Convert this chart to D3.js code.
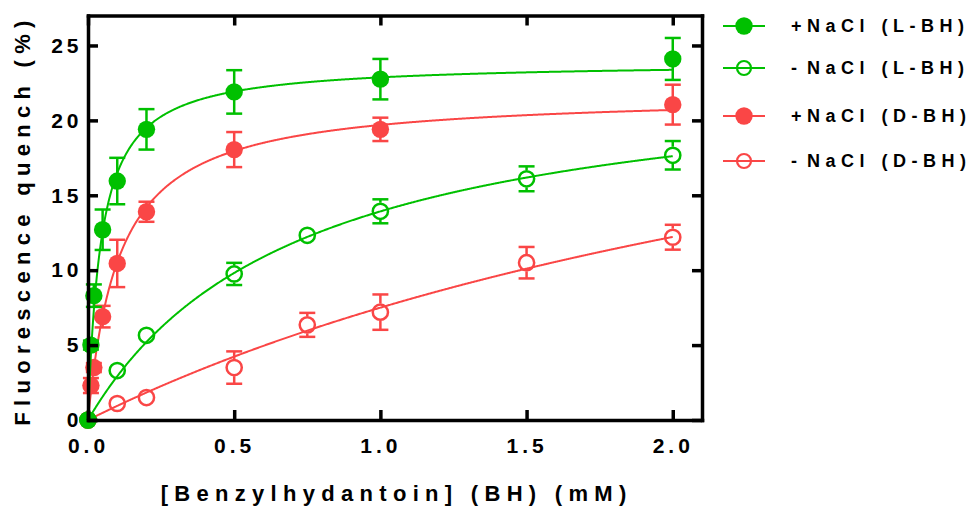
<!DOCTYPE html>
<html>
<head>
<meta charset="utf-8">
<script src="https://cdn.jsdelivr.net/npm/d3@7"></script>
<style>
  html, body { margin: 0; padding: 0; background: #fff; }
  svg { display: block; }
  text { font-family: "Liberation Sans", Arial, sans-serif; font-weight: bold; fill: #000; }
</style>
</head>
<body>
<svg id="chart" width="973" height="506"></svg>
<script>
// ---------------- data ----------------
const seriesNames = ["+NaCl (L-BH)", "- NaCl (L-BH)", "+NaCl (D-BH)", "- NaCl (D-BH)"];
const seriesColors = ["#00C000", "#00C000", "#FA4646", "#FA4646"];
const seriesFilled = [true, false, true, false];

const xPlusL = [0, 0.01, 0.02, 0.05, 0.1, 0.2, 0.5, 1.0, 2.0];
const yPlusL = [0, 5.0, 8.3, 12.7, 15.95, 19.4, 21.9, 22.75, 24.1];
const ePlusL = [0, 0.3, 0.75, 1.35, 1.55, 1.35, 1.45, 1.35, 1.4];

const xMinusL = [0, 0.1, 0.2, 0.5, 0.75, 1.0, 1.5, 2.0];
const yMinusL = [0, 3.3, 5.65, 9.75, 12.33, 13.93, 16.1, 17.67];
const eMinusL = [0, 0.3, 0.3, 0.74, 0.3, 0.8, 0.83, 0.95];

const xPlusD = [0, 0.01, 0.02, 0.05, 0.1, 0.2, 0.5, 1.0, 2.0];
const yPlusD = [0, 2.3, 3.5, 6.9, 10.45, 13.9, 18.05, 19.4, 21.05];
const ePlusD = [0, 0.5, 0.3, 0.72, 1.58, 0.67, 1.17, 0.78, 1.33];

const xMinusD = [0, 0.1, 0.2, 0.5, 0.75, 1.0, 1.5, 2.0];
const yMinusD = [0, 1.1, 1.5, 3.5, 6.35, 7.2, 10.5, 12.2];
const eMinusD = [0, 0.55, 0.3, 1.08, 0.8, 1.18, 1.05, 0.83];

// one-site binding fit parameters (Bmax, Kd) for the drawn curves
const fitBmax = [23.9, 23.95, 21.8, 33.0];
const fitKd = [0.045, 0.72, 0.107, 3.4];

const xTicks = [0, 0.5, 1.0, 1.5, 2.0];
const xTickLabels = ["0.0", "0.5", "1.0", "1.5", "2.0"];
const yTicks = [0, 5, 10, 15, 20, 25];
const yTickLabels = ["0", "5", "10", "15", "20", "25"];
const xTitle = "[Benzylhydantoin] (BH) (mM)";
const yTitle = "Fluorescence quench (%)";

// ---------------- layout ----------------
const svg = d3.select("#chart");
const mLeft = 88, mRight = 702, mTop = 15.5, mBottom = 420;
const x = d3.scaleLinear().domain([0, 2.1]).range([mLeft, mRight]);
const y = d3.scaleLinear().domain([0, 27]).range([mBottom, mTop]);

const series = [
  { x: xPlusL, y: yPlusL, e: ePlusL },
  { x: xMinusL, y: yMinusL, e: eMinusL },
  { x: xPlusD, y: yPlusD, e: ePlusD },
  { x: xMinusD, y: yMinusD, e: eMinusD }
].map((s, i) => ({ ...s, name: seriesNames[i], color: seriesColors[i], filled: seriesFilled[i],
  bmax: fitBmax[i], kd: fitKd[i] }));

const AXW = 3.5, TICK = 10, TICKFS = 21, TICKLS = 4;

// ---------------- curves & points (draw D series first, L on top) ----------------
const drawOrder = [3, 2, 1, 0];
const fitX = d3.range(0, 801).map(i => i * 2.0 / 800);
const line = d3.line().x(d => x(d[0])).y(d => y(d[1]));
const R_F = 8.7, R_O = 7.6;

drawOrder.forEach(i => {
  const s = series[i];
  const g = svg.append("g");
  g.append("path")
    .attr("d", line(fitX.map(v => [v, s.bmax * v / (s.kd + v)])))
    .attr("fill", "none").attr("stroke", s.color).attr("stroke-width", 2);
  const pts = s.x.map((v, k) => ({ x: v, y: s.y[k], e: s.e[k] }));
  const r = s.filled ? R_F : R_O;
  pts.forEach(p => {
    const cx = x(p.x), cy = y(p.y), ePx = y(p.y) - y(p.y + p.e);
    if (s.filled) {
      if (ePx <= 0) return;
      g.append("line").attr("x1", cx).attr("x2", cx).attr("y1", cy - ePx).attr("y2", cy + ePx)
        .attr("stroke", s.color).attr("stroke-width", 2.5);
      [-1, 1].forEach(sg => g.append("line").attr("x1", cx - 8).attr("x2", cx + 8)
        .attr("y1", cy + sg * ePx).attr("y2", cy + sg * ePx).attr("stroke", s.color).attr("stroke-width", 2.5));
    } else {
      if (ePx <= r + 1) return;
      [-1, 1].forEach(sg => {
        g.append("line").attr("x1", cx).attr("x2", cx).attr("y1", cy + sg * (r + 1)).attr("y2", cy + sg * ePx)
          .attr("stroke", s.color).attr("stroke-width", 2.5);
        g.append("line").attr("x1", cx - 8).attr("x2", cx + 8)
          .attr("y1", cy + sg * ePx).attr("y2", cy + sg * ePx).attr("stroke", s.color).attr("stroke-width", 2.5);
      });
    }
  });
  g.selectAll("circle").data(pts).join("circle")
    .attr("cx", d => x(d.x)).attr("cy", d => y(d.y)).attr("r", r)
    .attr("fill", s.filled ? s.color : "none")
    .attr("stroke", s.filled ? "none" : s.color).attr("stroke-width", 2.5);
});

// ---------------- axes (box, inward ticks) ----------------
function styleAxis(g) {
  g.selectAll(".domain").attr("stroke", "#000").attr("stroke-width", AXW).attr("stroke-linecap", "square");
  g.selectAll(".tick line").attr("stroke", "#000").attr("stroke-width", AXW);
  g.selectAll("text").attr("font-size", TICKFS).attr("letter-spacing", TICKLS)
    .attr("font-family", "'Liberation Sans', Arial, sans-serif").attr("font-weight", "bold").attr("fill", "#000");
}
const gx = svg.append("g").attr("transform", `translate(0,${mBottom})`)
  .call(d3.axisBottom(x).tickValues(xTicks).tickFormat((d, i) => xTickLabels[i]).tickSize(-TICK).tickSizeOuter(0).tickPadding(18));
styleAxis(gx);

const gxt = svg.append("g").attr("transform", `translate(0,${mTop})`)
  .call(d3.axisTop(x).tickValues(xTicks).tickFormat("").tickSize(-TICK).tickSizeOuter(0));
styleAxis(gxt);

const gy = svg.append("g").attr("transform", `translate(${mLeft},0)`)
  .call(d3.axisLeft(y).tickValues(yTicks).tickFormat((d, i) => yTickLabels[i]).tickSize(-TICK).tickSizeOuter(0).tickPadding(5.5));
styleAxis(gy);

const gyr = svg.append("g").attr("transform", `translate(${mRight},0)`)
  .call(d3.axisRight(y).tickValues(yTicks).tickFormat("").tickSize(-TICK).tickSizeOuter(0));
styleAxis(gyr);

// axis titles
const TITLEFS = 22, TITLELS = 6.3;
svg.append("text").attr("x", 393.5 + TITLELS / 2).attr("y", 501)
  .attr("text-anchor", "middle").attr("font-size", TITLEFS).attr("letter-spacing", TITLELS).text(xTitle);
svg.append("text").attr("transform", `translate(30,220) rotate(-90)`)
  .attr("text-anchor", "middle").attr("font-size", TITLEFS).attr("letter-spacing", TITLELS).text(yTitle);

// ---------------- legend ----------------
const legendY = [26, 68, 116, 161];
const leg = svg.append("g");
series.forEach((s, i) => {
  const ly = legendY[i];
  leg.append("line").attr("x1", 723).attr("x2", 765).attr("y1", ly).attr("y2", ly)
    .attr("stroke", s.color).attr("stroke-width", 2);
  leg.append("circle").attr("cx", 744).attr("cy", ly).attr("r", s.filled ? 8.7 : 7)
    .attr("fill", s.filled ? s.color : "none").attr("stroke", s.filled ? "none" : s.color).attr("stroke-width", 2.2);
  const t = leg.append("text").attr("x", 791).attr("y", ly).attr("dy", "0.36em")
    .attr("font-size", 18).attr("letter-spacing", 5.5).attr("word-spacing", 1);
  const m = s.name.match(/^([+\-]\s*)(.*)$/);
  const head = m[1], rest = m[2];
  if (head.length > 1) {
    // "- " prefix: tighter spacing so the names line up like the reference
    t.append("tspan").attr("letter-spacing", 2.5).attr("word-spacing", 0).text(head);
  } else {
    t.append("tspan").text(head);
  }
  t.append("tspan").text(rest);
});
</script>
</body>
</html>
